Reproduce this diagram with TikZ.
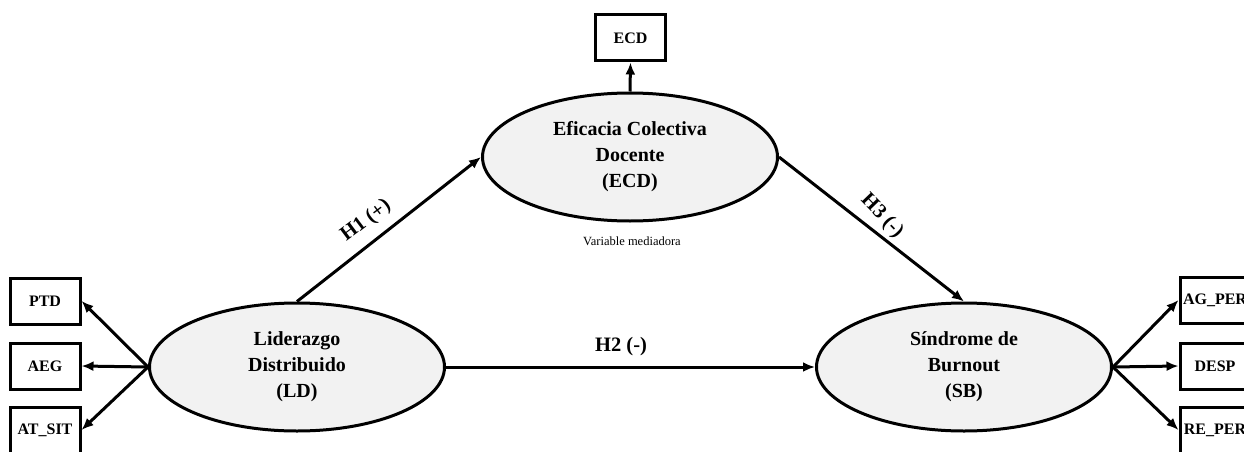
\documentclass[tikz,border=0pt]{standalone}
\usepackage{fontspec}
\setmainfont{Liberation Serif}
\usetikzlibrary{shapes.geometric,arrows.meta}
\tikzset{
  latent/.style={ellipse, draw, line width=3pt, fill=black!5, minimum width=295pt, minimum height=128pt, inner sep=0pt, align=center, font=\fontsize{20}{26}\selectfont\bfseries},
  indic/.style={rectangle, draw, line width=3pt, fill=white, minimum width=70pt, minimum height=46pt, inner sep=0pt, font=\fontsize{16}{18}\selectfont\bfseries},
  arr/.style={line width=3pt, -{Latex[length=12pt,width=10pt]}},
  hlab/.style={font=\fontsize{20.5}{22}\selectfont\bfseries}
}
\begin{document}
\begin{tikzpicture}[x=1pt,y=-1pt]
\useasboundingbox (0,0) rectangle (1244,452);
\node[latent] (LD) at (297,367) {Liderazgo\\Distribuido\\(LD)};
\node[latent] (ECD) at (630,157) {Eficacia Colectiva\\Docente\\(ECD)};
\node[latent] (SB) at (964,367) {Síndrome de\\Burnout\\(SB)};
\node[indic] (ECDb) at (630.5,38) {ECD};
\node[indic] (PTD) at (45,301) {PTD};
\node[indic] (AEG) at (45,366) {AEG};
\node[indic] (ATSIT) at (45,430) {AT\_SIT};
\node[indic] (AGPER) at (1215,300) {AG\_PER};
\node[indic] (DESP) at (1215,366) {DESP};
\node[indic] (REPER) at (1215,430) {RE\_PER};
\draw[arr] (ECD.north) -- (ECDb.south);
\draw[arr] (LD.west) -- (PTD.east);
\draw[arr] (LD.west) -- (AEG.east);
\draw[arr] (LD.west) -- (ATSIT.east);
\draw[arr] (SB.east) -- (AGPER.west);
\draw[arr] (SB.east) -- (DESP.west);
\draw[arr] (SB.east) -- (REPER.west);
\draw[arr] (LD.north) -- (ECD.west);
\draw[arr] (ECD.east) -- (SB.north);
\draw[arr] (LD.east) -- (SB.west);
\node[hlab, rotate=37] (h1) at (366,221) {H1 (+)};
\node[hlab, rotate=-46] (h3) at (882,216) {H3 (-)};
\node[hlab] (h2) at (621,347) {H2 (-)};
\node[font=\fontsize{12.5}{14}\selectfont] (vm) at (632,241) {Variable mediadora};
\end{tikzpicture}
\end{document}
